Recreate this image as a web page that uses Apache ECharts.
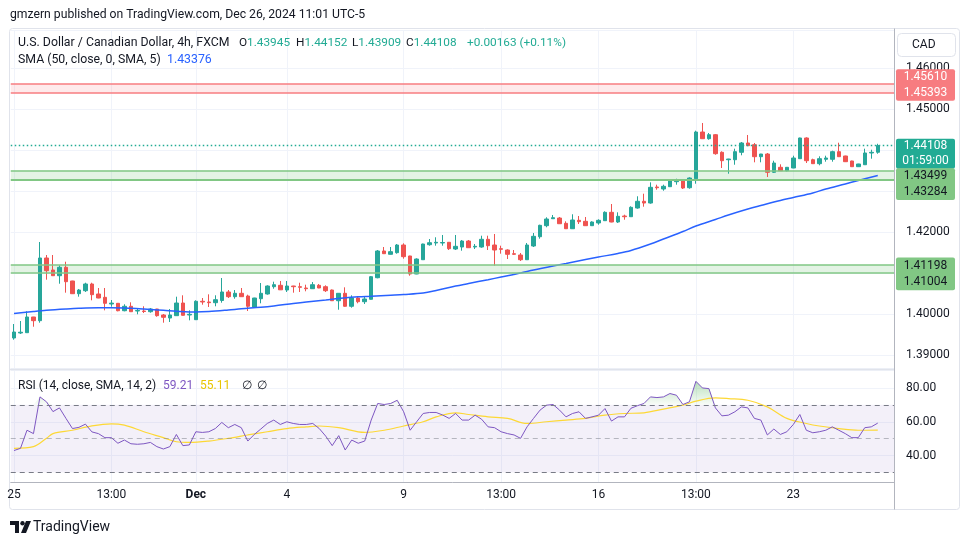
<!DOCTYPE html>
<html>
<head>
    <meta charset="utf-8">
    <title>USDCAD 4h - FXCM</title>
    <script src="https://cdn.jsdelivr.net/npm/echarts@6/dist/echarts.min.js"></script>
    <style>
        html, body { margin: 0; padding: 0; background: #ffffff; }
        #main { width: 970px; height: 545px; }
    </style>
</head>
<body>
    <div id="main"></div>
    <script type="text/javascript">
        // candles (4h bars, Nov 25 -> Dec 26)
        var opens = [
            1.39415,1.39537,1.39544,1.39927,1.39837,1.41366,1.41073,1.40934,1.41139,1.40805,
            1.40495,1.40568,1.40732,1.40488,1.40407,1.40244,1.40261,1.40080,1.40188,1.40073,
            1.40073,1.40056,1.40122,1.39976,1.39902,1.39959,1.40268,1.39976,1.39861,1.40310,
            1.40293,1.40276,1.40329,1.40537,1.40422,1.40505,1.40439,1.40171,1.40373,1.40488,
            1.40666,1.40700,1.40585,1.40683,1.40666,1.40634,1.40617,1.40700,1.40666,1.40585,
            1.40324,1.40505,1.40188,1.40390,1.40300,1.40359,1.40885,1.41537,1.41456,1.41496,
            1.41683,1.41415,1.40976,1.41324,1.41690,1.41732,1.41732,1.41749,1.41585,1.41634,
            1.41780,1.41634,1.41634,1.41822,1.41683,1.41593,1.41561,1.41471,1.41439,1.41324,
            1.41659,1.41885,1.42154,1.42324,1.42341,1.42212,1.42080,1.42285,1.42261,1.42154,
            1.42220,1.42276,1.42480,1.42244,1.42390,1.42373,1.42585,1.42749,1.42707,1.43098,
            1.43049,1.43105,1.43227,1.43268,1.43080,1.43300,1.44439,1.44276,1.44373,1.43944,
            1.43763,1.43763,1.43944,1.44171,1.44129,1.43837,1.43902,1.43456,1.43578,1.43495,
            1.43561,1.43788,1.44293,1.43763,1.43666,1.43773,1.43773,1.43959,1.43854,1.43732,
            1.43593,1.43641,1.43927,1.43945
        ];
        var highs = [
            1.39756,1.39829,1.40066,1.39930,1.41756,1.41439,1.41439,1.41188,1.41276,1.40810,
            1.40610,1.40763,1.40763,1.40634,1.40634,1.40341,1.40268,1.40237,1.40285,1.40129,
            1.40188,1.40146,1.40125,1.40000,1.40122,1.40422,1.40456,1.40090,1.40334,1.40390,
            1.40480,1.40456,1.40878,1.40585,1.40585,1.40634,1.40471,1.40395,1.40756,1.40700,
            1.40788,1.40805,1.40805,1.40688,1.40763,1.40715,1.40780,1.40732,1.40700,1.40597,
            1.40512,1.40651,1.40456,1.40439,1.40439,1.40927,1.41561,1.41634,1.41634,1.41707,
            1.41724,1.41420,1.41358,1.41715,1.41829,1.41871,1.41927,1.41755,1.41927,1.41805,
            1.41805,1.41707,1.41910,1.41910,1.41951,1.41666,1.41578,1.41561,1.41488,1.41732,
            1.41976,1.42178,1.42359,1.42415,1.42366,1.42261,1.42432,1.42390,1.42366,1.42261,
            1.42310,1.42505,1.42683,1.42480,1.42422,1.42627,1.42871,1.42934,1.43212,1.43154,
            1.43154,1.43276,1.43300,1.43285,1.43334,1.44471,1.44659,1.44415,1.44390,1.43968,
            1.43785,1.44032,1.44195,1.44366,1.44171,1.43905,1.43927,1.43739,1.43651,1.43585,
            1.43861,1.44300,1.44310,1.43788,1.43846,1.43861,1.43983,1.44178,1.43861,1.43739,
            1.43664,1.44032,1.44007,1.44152
        ];
        var lows = [
            1.39373,1.39512,1.39540,1.39690,1.39788,1.40837,1.40934,1.40739,1.40520,1.40490,
            1.40422,1.40537,1.40334,1.40385,1.40090,1.40178,1.40066,1.40066,1.40054,1.39993,
            1.40024,1.40032,1.39934,1.39788,1.39805,1.39955,1.39963,1.39846,1.39855,1.40227,
            1.40171,1.40188,1.40276,1.40390,1.40373,1.40420,1.40073,1.40154,1.40261,1.40471,
            1.40617,1.40585,1.40537,1.40520,1.40537,1.40554,1.40612,1.40630,1.40537,1.40317,
            1.40105,1.40178,1.40154,1.40261,1.40244,1.40354,1.40871,1.41466,1.41451,1.41471,
            1.41349,1.40934,1.40971,1.41320,1.41666,1.41666,1.41666,1.41561,1.41561,1.41544,
            1.41612,1.41585,1.41617,1.41561,1.41178,1.41471,1.41341,1.41439,1.41293,1.41317,
            1.41634,1.41837,1.42115,1.42320,1.42200,1.42073,1.42073,1.42195,1.42149,1.42149,
            1.42178,1.42273,1.42237,1.42220,1.42300,1.42368,1.42568,1.42617,1.42690,1.43032,
            1.43007,1.43102,1.43154,1.43049,1.43056,1.43178,1.44268,1.44251,1.43885,1.43561,
            1.43422,1.43641,1.43871,1.44102,1.43700,1.43700,1.43341,1.43439,1.43493,1.43480,
            1.43556,1.43783,1.43683,1.43663,1.43627,1.43715,1.43715,1.43832,1.43707,1.43588,
            1.43588,1.43636,1.43788,1.43909
        ];
        var closes = [
            1.39561,1.39556,1.39927,1.39837,1.41366,1.41056,1.40934,1.41139,1.40788,1.40495,
            1.40585,1.40732,1.40471,1.40390,1.40261,1.40266,1.40080,1.40188,1.40056,1.40085,
            1.40061,1.40122,1.39959,1.39920,1.39976,1.40268,1.39968,1.39993,1.40310,1.40293,
            1.40276,1.40349,1.40537,1.40422,1.40505,1.40422,1.40188,1.40390,1.40505,1.40683,
            1.40715,1.40590,1.40683,1.40666,1.40651,1.40617,1.40715,1.40634,1.40568,1.40324,
            1.40505,1.40188,1.40390,1.40300,1.40366,1.40910,1.41537,1.41471,1.41520,1.41683,
            1.41398,1.40976,1.41341,1.41707,1.41739,1.41749,1.41744,1.41593,1.41651,1.41780,
            1.41617,1.41651,1.41822,1.41666,1.41561,1.41578,1.41456,1.41456,1.41324,1.41683,
            1.41895,1.42163,1.42317,1.42349,1.42202,1.42080,1.42293,1.42251,1.42154,1.42244,
            1.42285,1.42480,1.42244,1.42383,1.42373,1.42602,1.42749,1.42707,1.43090,1.43080,
            1.43115,1.43251,1.43268,1.43073,1.43317,1.44439,1.44276,1.44373,1.43910,1.43739,
            1.43780,1.43959,1.44171,1.44105,1.43837,1.43902,1.43456,1.43683,1.43495,1.43578,
            1.43805,1.44293,1.43739,1.43666,1.43788,1.43805,1.43959,1.43837,1.43715,1.43593,
            1.43659,1.43927,1.43944,1.44108
        ];

        // SMA(50) read at a set of bars
        var smaIdx = [0,3,5,8,10,13,15,18,20,23,25,27,28,30,33,35,38,40,43,45,48,50,53,55,58,60,63,65,68,70,
            73,75,78,80,83,85,88,90,93,95,98,100,103,105,108,110,113,115,118,120,123,125,128,130,133];
        var smaVal = [1.40012,1.40061,1.40090,1.40122,1.40139,1.40151,1.40151,1.40139,1.40122,1.40090,
            1.40066,1.40049,1.40049,1.40061,1.40098,1.40127,1.40163,1.40195,1.40256,1.40293,
            1.40341,1.40378,1.40422,1.40434,1.40459,1.40476,1.40512,1.40573,1.40683,1.40744,
            1.40837,1.40902,1.41000,1.41073,1.41171,1.41232,1.41329,1.41390,1.41476,1.41549,
            1.41707,1.41829,1.42012,1.42146,1.42305,1.42415,1.42561,1.42646,1.42768,1.42841,
            1.42951,1.43049,1.43171,1.43256,1.43376];

        // RSI(14) per bar and its SMA(14) read at a set of bars
        var rsi = [
            43,44.3,55,53,74.7,71.8,66,68.2,62,56,
            56.7,58.6,54,53,50.6,50.6,47.3,49.2,47,46.7,
            47,47.8,45.3,43.9,45.3,52.5,45.9,46.3,54.1,53.7,
            54.1,56,59.6,56.5,58.4,56.5,48.6,52.5,55.7,59,
            61,58.4,60,59,58.4,58.4,59,56,51.5,45.9,
            51.8,43.3,49.2,47.3,48.6,61,70.8,70.2,70.8,72.7,
            65.9,55,60,64.9,65.5,65.5,64,62,64.9,61,
            61,63.9,61.5,57,56.5,54.1,53,52.2,50.2,57,
            62,66.9,69.8,70.2,66.9,62.9,64.9,65.9,62,62.9,
            63.9,67.8,60.4,62.9,62.9,68,69.5,70.8,74.7,74.3,
            74.7,76.7,75.7,70.2,71.8,83.9,80,79.6,68.2,63.5,
            63.9,65.9,68.8,68.2,62,61,52.2,55.7,52.5,54.1,
            58.4,64.3,55,53.5,54.1,55,57,55,53,50.6,
            50.6,56.5,57,59.21
        ];
        var rsiMaIdx = [0,3,5,6,9,12,15,17,20,23,25,27,30,33,36,39,42,45,47,50,54,57,60,63,65,68,70,73,76,79,
            82,85,88,91,94,97,100,103,105,108,110,113,116,119,122,124,127,130,133];
        var rsiMaVal = [44.3,45.3,50.2,53,55,57.6,58.8,58,54.1,50.6,48.2,47.8,48.6,50.2,52.2,54.1,56,57,57.5,56.5,
            53.7,55,57.5,60,62.9,65.3,64.3,62.9,62,59,60,61,62,63.9,64.9,65.3,67.5,69.8,72.2,74.1,
            73.7,72.7,68.8,62,59,57.5,56,55,55.11];

        // time axis ticks
        var tickIdx = [0, 15, 28, 42, 60, 75, 90, 105, 120];
        var tickText = ['25', '13:00', 'Dec', '4', '9', '13:00', '16', '13:00', '23'];

        // drawn zones and levels
        var zoneRed = [1.45393, 1.45610];
        var zoneGreenHigh = [1.43284, 1.43499];
        var zoneGreenLow = [1.41004, 1.41198];
        var lastPrice = 1.44108;
        var priceRange = [1.38683, 1.46927];
        var rsiRange = [24.4, 90.6];

        var FONT = 'Roboto, "Liberation Sans", Arial, sans-serif';
        var TXT = '#131722';
        var UP = '#26a69a', DOWN = '#ef5350';

        var cats = [];
        for (var i = 0; i < opens.length + 2; i++) cats.push(String(i));
        var ohlc = opens.map(function (o, k) { return [o, closes[k], lows[k], highs[k]]; });
        var sma = smaIdx.map(function (x, k) { return [x, smaVal[k]]; });
        var rsiMa = rsiMaIdx.map(function (x, k) { return [x, rsiMaVal[k]]; });
        var rsiBase = rsi.map(function () { return 70; });
        var rsiHot = rsi.map(function (v) { return Math.max(v - 70, 0); });

        function isTick(i) { return tickIdx.indexOf(+i) >= 0; }
        function tickLabel(v, i) {
            var k = tickIdx.indexOf(+v);
            if (k < 0) return '';
            return tickText[k] === 'Dec' ? '{b|Dec}' : tickText[k];
        }

        var gridLine = { color: '#f0f3fa', width: 1 };

        var myChart = echarts.init(document.getElementById('main'));

        var option = {
            animation: false,
            backgroundColor: '#ffffff',
            textStyle: { fontFamily: FONT },
            grid: [
                { left: 10.75, top: 30, width: 883.25, height: 338 },
                { left: 10.75, top: 370, width: 883.25, height: 112 }
            ],
            xAxis: [
                {
                    type: 'category', gridIndex: 0, data: cats, boundaryGap: true,
                    axisLine: { show: false }, axisTick: { show: false }, axisLabel: { show: false },
                    splitLine: { show: true, interval: function (i) { return isTick(i); }, alignWithLabel: true, lineStyle: gridLine }
                },
                {
                    type: 'category', gridIndex: 1, data: cats, boundaryGap: true,
                    axisLine: { show: true, lineStyle: { color: '#b2b5be' } },
                    axisTick: { show: false },
                    axisLabel: {
                        interval: function (i) { return isTick(i); }, formatter: tickLabel,
                        margin: 7, color: TXT, fontSize: 12, fontFamily: FONT,
                        rich: { b: { fontWeight: 'bold', color: TXT, fontSize: 12, fontFamily: FONT } }
                    },
                    splitLine: { show: true, interval: function (i) { return isTick(i); }, alignWithLabel: true, lineStyle: gridLine }
                }
            ],
            yAxis: [
                {
                    type: 'value', gridIndex: 0, position: 'right', scale: true,
                    min: priceRange[0], max: priceRange[1], minInterval: 0.01, maxInterval: 0.01, splitNumber: 8,
                    axisLine: { show: false }, axisTick: { show: false },
                    axisLabel: {
                        margin: 12, color: TXT, fontSize: 12, fontFamily: FONT,
                        showMinLabel: false, showMaxLabel: false,
                        formatter: function (v) { return v.toFixed(5); }
                    },
                    splitLine: { lineStyle: gridLine }
                },
                {
                    type: 'value', gridIndex: 1, position: 'right',
                    min: rsiRange[0], max: rsiRange[1], minInterval: 20, maxInterval: 20, splitNumber: 3,
                    axisLine: { show: false }, axisTick: { show: false },
                    axisLabel: {
                        margin: 12, color: TXT, fontSize: 12, fontFamily: FONT,
                        showMinLabel: false, showMaxLabel: false,
                        formatter: function (v) { return v.toFixed(2); }
                    },
                    splitLine: { lineStyle: gridLine }
                }
            ],
            series: [
                {
                    name: 'zones', type: 'line', xAxisIndex: 0, yAxisIndex: 0, data: [], z: 1, silent: true,
                    markArea: {
                        silent: true,
                        data: [
                            [{ yAxis: zoneRed[0], itemStyle: { color: 'rgba(247,124,128,0.16)' } }, { yAxis: zoneRed[1] }],
                            [{ yAxis: zoneGreenHigh[0], itemStyle: { color: 'rgba(129,199,132,0.22)' } }, { yAxis: zoneGreenHigh[1] }],
                            [{ yAxis: zoneGreenLow[0], itemStyle: { color: 'rgba(129,199,132,0.22)' } }, { yAxis: zoneGreenLow[1] }]
                        ]
                    },
                    markLine: {
                        silent: true, symbol: 'none', precision: 5, label: { show: false },
                        data: [
                            { yAxis: zoneRed[0], lineStyle: { color: '#f77c80', width: 1.5, type: 'solid' } },
                            { yAxis: zoneRed[1], lineStyle: { color: '#f77c80', width: 1.5, type: 'solid' } },
                            { yAxis: zoneGreenHigh[0], lineStyle: { color: '#81c784', width: 2, type: 'solid' } },
                            { yAxis: zoneGreenHigh[1], lineStyle: { color: '#81c784', width: 1.5, type: 'solid' } },
                            { yAxis: zoneGreenLow[0], lineStyle: { color: '#81c784', width: 1.5, type: 'solid' } },
                            { yAxis: zoneGreenLow[1], lineStyle: { color: '#81c784', width: 1.5, type: 'solid' } }
                        ]
                    }
                },
                {
                    name: 'USDCAD', type: 'candlestick', xAxisIndex: 0, yAxisIndex: 0, data: ohlc,
                    barWidth: 4, z: 3,
                    itemStyle: { color: UP, color0: DOWN, borderColor: UP, borderColor0: DOWN, borderWidth: 1 },
                    markLine: {
                        silent: true, symbol: 'none', precision: 5, label: { show: false },
                        data: [{ yAxis: lastPrice, lineStyle: { color: '#22ab94', width: 1.3, type: [1.5, 2.5], opacity: 1 } }]
                    }
                },
                {
                    name: 'SMA', type: 'line', xAxisIndex: 0, yAxisIndex: 0, data: sma, smooth: 0.35,
                    symbol: 'none', z: 4, lineStyle: { color: '#2962ff', width: 1.5 }
                },
                {
                    name: 'rsiBand', type: 'line', xAxisIndex: 1, yAxisIndex: 1, data: [], z: 1, silent: true,
                    markArea: {
                        silent: true,
                        data: [[{ yAxis: 30, itemStyle: { color: 'rgba(126,87,194,0.09)' } }, { yAxis: 70 }]]
                    },
                    markLine: {
                        silent: true, symbol: 'none', precision: 2, label: { show: false },
                        data: [
                            { yAxis: 70, lineStyle: { color: '#787b86', width: 1, type: [5, 4] } },
                            { yAxis: 50, lineStyle: { color: 'rgba(120,123,134,0.5)', width: 1, type: [5, 4] } },
                            { yAxis: 30, lineStyle: { color: '#787b86', width: 1, type: [5, 4] } }
                        ]
                    }
                },
                {
                    name: 'hotBase', type: 'line', xAxisIndex: 1, yAxisIndex: 1, data: rsiBase, stack: 'hot',
                    symbol: 'none', silent: true, z: 2, lineStyle: { opacity: 0 }
                },
                {
                    name: 'hot', type: 'line', xAxisIndex: 1, yAxisIndex: 1, data: rsiHot, stack: 'hot',
                    symbol: 'none', silent: true, z: 2, lineStyle: { opacity: 0 },
                    areaStyle: {
                        color: new echarts.graphic.LinearGradient(0, 0, 0, 1, [
                            { offset: 0, color: 'rgba(76,175,80,0.55)' },
                            { offset: 1, color: 'rgba(76,175,80,0.05)' }
                        ])
                    }
                },
                {
                    name: 'RSI', type: 'line', xAxisIndex: 1, yAxisIndex: 1, data: rsi,
                    symbol: 'none', z: 4, lineStyle: { color: '#7e57c2', width: 1 }
                },
                {
                    name: 'RSI MA', type: 'line', xAxisIndex: 1, yAxisIndex: 1, data: rsiMa, smooth: 0.35,
                    symbol: 'none', z: 3, lineStyle: { color: '#fdd835', width: 1.2 }
                }
            ]
        };

        myChart.setOption(option);

        // legend texts, frame and price tags
        function txt(x, y, s, color, size, weight) {
            return {
                type: 'text', x: x, y: y, z: 10,
                style: {
                    text: s, fill: color, font: (weight || 'normal') + ' ' + size + 'px ' + FONT,
                    align: 'left', verticalAlign: 'middle', textAlign: 'left', textVerticalAlign: 'middle'
                }
            };
        }
        function kv(x, y, k, v, size) {
            return {
                type: 'text', x: x, y: y, z: 10,
                style: {
                    text: '{k|' + k + '}{v|' + v + '}', font: size + 'px ' + FONT,
                    align: 'left', verticalAlign: 'middle', textAlign: 'left', textVerticalAlign: 'middle',
                    rich: { k: { fill: TXT, fontSize: size, fontFamily: FONT }, v: { fill: '#22ab94', fontSize: size, fontFamily: FONT } }
                }
            };
        }
        function yPix(v) { return myChart.convertToPixel({ yAxisIndex: 0 }, v); }
        function tag(rows, rowH, bg, fg) {
            var ys = rows.map(function (r) { return yPix(r.value) + r.dy; });
            var top = ys[0] - rowH / 2, bottom = ys[ys.length - 1] + rowH / 2;
            var els = [{
                type: 'rect', z: 20,
                shape: { x: 896, y: top, width: 59, height: bottom - top, r: 2 },
                style: { fill: bg }
            }];
            rows.forEach(function (r, k) {
                els.push({
                    type: 'text', x: 925.5, y: ys[k], z: 21,
                    style: {
                        text: r.text, fill: fg, font: '12px ' + FONT,
                        align: 'center', verticalAlign: 'middle', textAlign: 'center', textVerticalAlign: 'middle'
                    }
                });
            });
            return els;
        }

        var last = opens.length - 1;
        var LS = 12.3;
        var KS = 11.8;
        var graphics = [
            // frame
            { type: 'rect', z: 0, shape: { x: 9.5, y: 28.5, width: 950, height: 481, r: 3 }, style: { fill: 'none', stroke: '#e0e3eb', lineWidth: 1 } },
            { type: 'line', z: 5, shape: { x1: 894.5, y1: 28.5, x2: 894.5, y2: 509.5 }, style: { stroke: '#b2b5be', lineWidth: 1 } },
            { type: 'line', z: 5, shape: { x1: 10, y1: 369.5, x2: 894, y2: 369.5 }, style: { stroke: '#e0e3eb', lineWidth: 1.5 } },
            { type: 'rect', z: 5, shape: { x: 897.5, y: 33.5, width: 58, height: 23, r: 4 }, style: { fill: '#ffffff', stroke: '#e0e3eb', lineWidth: 1 } },
            txt(912, 45, 'CAD', TXT, 12),
            // header
            txt(10, 15, 'gmzern published on TradingView.com, Dec 26, 2024 11:01 UTC-5', TXT, 12.2),
            txt(18, 43, 'U.S. Dollar / Canadian Dollar, 4h, FXCM', TXT, LS),
            kv(239, 43, 'O', opens[last].toFixed(5), KS),
            kv(296, 43, 'H', highs[last].toFixed(5), KS),
            kv(352, 43, 'L', lows[last].toFixed(5), KS),
            kv(406, 43, 'C', closes[last].toFixed(5), KS),
            txt(467, 43, '+0.00163 (+0.11%)', '#22ab94', KS),
            txt(18, 60, 'SMA (50, close, 0, SMA, 5)', TXT, LS),
            txt(167, 60, smaVal[smaVal.length - 1].toFixed(5), '#2962ff', LS),
            txt(18, 386, 'RSI (14, close, SMA, 14, 2)', TXT, 12),
            txt(163, 386, rsi[last].toFixed(2), '#7e57c2', 12),
            txt(200, 386, rsiMaVal[rsiMaVal.length - 1].toFixed(2), '#e8c500', 12),
            txt(242, 386, '\u2205', TXT, 12),
            txt(257, 386, '\u2205', TXT, 12),
            // footer logo
            { type: 'polygon', z: 10, shape: { points: [[10, 521], [19, 521], [19, 533], [15, 533], [15, 525], [10, 525]] }, style: { fill: TXT } },
            { type: 'circle', z: 10, shape: { cx: 22.5, cy: 523.2, r: 2.2 }, style: { fill: TXT } },
            { type: 'polygon', z: 10, shape: { points: [[26, 521], [31, 521], [26, 533], [21, 533]] }, style: { fill: TXT } },
            txt(33, 527, 'TradingView', TXT, 14)
        ];

        graphics = graphics
            .concat(tag([{ value: zoneRed[1], text: zoneRed[1].toFixed(5), dy: -6.6 },
                         { value: zoneRed[0], text: zoneRed[0].toFixed(5), dy: -0.3 }], 16.2, '#f77c80', '#ffffff'))
            .concat(tag([{ value: lastPrice, text: lastPrice.toFixed(5), dy: 0.7 },
                         { value: lastPrice, text: '01:59:00', dy: 15.7 }], 15, '#22ab94', '#ffffff'))
            .concat(tag([{ value: zoneGreenHigh[1], text: zoneGreenHigh[1].toFixed(5), dy: 5.7 },
                         { value: zoneGreenHigh[0], text: zoneGreenHigh[0].toFixed(5), dy: 12.7 }], 15.9, '#81c784', TXT))
            .concat(tag([{ value: zoneGreenLow[1], text: zoneGreenLow[1].toFixed(5), dy: 0.8 },
                         { value: zoneGreenLow[0], text: zoneGreenLow[0].toFixed(5), dy: 9.2 }], 16.2, '#81c784', TXT));

        myChart.setOption({ graphic: graphics });
    </script>
</body>
</html>
